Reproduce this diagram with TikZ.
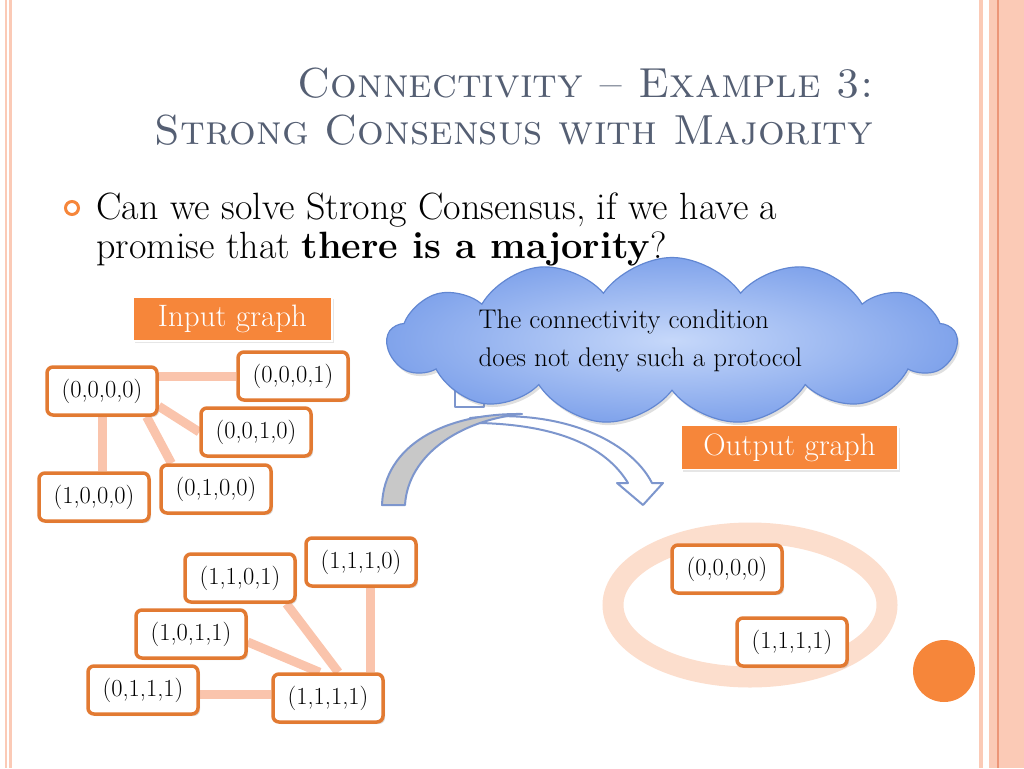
\documentclass[tikz,border=0pt]{standalone}
\usetikzlibrary{shapes.symbols,shadows,backgrounds}
\definecolor{titlegray}{RGB}{85,95,115}
\definecolor{boxorange}{RGB}{226,122,50}
\definecolor{labelorange}{RGB}{246,134,58}
\definecolor{edgepink}{RGB}{250,196,172}
\definecolor{stripepink}{RGB}{251,202,182}
\definecolor{stripeline}{RGB}{236,150,120}
\definecolor{ringpeach}{RGB}{252,222,205}
\definecolor{cloudline}{RGB}{98,135,210}
\definecolor{cloudin}{RGB}{198,216,250}
\definecolor{cloudout}{RGB}{128,163,235}
\definecolor{arrowline}{RGB}{125,150,205}
\definecolor{arrowgray}{RGB}{200,200,200}
\begin{document}
\begin{tikzpicture}[x=1pt,y=-1pt,
    vertex/.style={draw=boxorange, line width=3.5pt, rounded corners=6pt, fill=white,
      minimum width=110pt, minimum height=48pt, inner sep=2pt,
      font=\fontsize{24.5}{28}\selectfont,
      drop shadow={opacity=0.25, shadow xshift=2pt, shadow yshift=-2pt}},
    link/.style={draw=edgepink, line width=9pt},
    tag/.style={fill=labelorange, draw=white, line width=1.5pt, text=white,
      minimum height=44pt, font=\fontsize{31}{34}\selectfont,
      drop shadow={opacity=0.2, shadow xshift=2pt, shadow yshift=-2pt}},
    ribbon/.style={draw=arrowline, line width=2pt, line join=round}]
  \useasboundingbox (0,0) rectangle (1024,768);
  % side stripes
  \fill[stripepink] (5,0) rectangle (7,768);
  \fill[stripepink] (9,0) rectangle (12,768);
  \fill[stripepink] (979,0) rectangle (983,768);
  \fill[stripepink] (989,0) rectangle (1024,768);
  \draw[stripeline, line width=1.2pt] (998,0) -- (998,768);

  % title
  \node[anchor=base east, text=titlegray, font=\fontsize{42}{48}\selectfont\scshape] (title1) at (877,97) {Connectivity -- Example 3:};
  \node[anchor=base east, text=titlegray, font=\fontsize{42}{48}\selectfont\scshape] (title2) at (877,144) {Strong Consensus with Majority};

  % bullet text
  \draw[labelorange, line width=3pt] (72,208) circle (6.5);
  \node[anchor=base west, font=\fontsize{38}{42}\selectfont] (line1) at (93,219) {Can we solve Strong Consensus, if we have a};
  \node[anchor=base west, font=\fontsize{38}{42}\selectfont] (line2) at (93,258) {promise that \textbf{there is a majority}?};

  % input graph
  \node[vertex] (n0000) at (102,391) {(0,0,0,0)};
  \node[vertex] (n0001) at (293,376) {(0,0,0,1)};
  \node[vertex] (n0010) at (256,432) {(0,0,1,0)};
  \node[vertex] (n0100) at (216,489) {(0,1,0,0)};
  \node[vertex] (n1000) at (94,497) {(1,0,0,0)};

  \node[vertex] (n1101) at (240,578) {(1,1,0,1)};
  \node[vertex] (n1110) at (361,562) {(1,1,1,0)};
  \node[vertex] (n1011) at (191,634) {(1,0,1,1)};
  \node[vertex] (n0111) at (143,690) {(0,1,1,1)};
  \node[vertex] (n1111) at (328,698) {(1,1,1,1)};

  \begin{scope}[on background layer]
    \draw[link] (n0000.east |- n0001.west) -- (n0001.west);
    \draw[link] (n0000.-15) -- (n0010.west);
    \draw[link] (n0000.-30) -- (n0100.150);
    \draw[link] (n0000.south) -- (n0000.south |- n1000.north);
    \draw[link] ([xshift=9pt]n1110.south) -- ([xshift=9pt]n1110.south |- n1111.north);
    \draw[link] (n1101.-29) -- (n1111.68);
    \draw[link] (n1011.-8) -- (n1111.108);
    \draw[link] ([yshift=-4pt]n0111.east) -- ([yshift=-4pt]n0111.east -| n1111.west);
  \end{scope}

  % output graph
  \draw[ringpeach, line width=21pt] (750,605) ellipse (137 and 72);
  \node[vertex] (o0000) at (727,569) {(0,0,0,0)};
  \node[vertex] (o1111) at (792,642) {(1,1,1,1)};
  \fill[labelorange] (944,671) circle (31);

  % curved arrow
  \draw[ribbon, fill=white] (455,385) -- (455,407) -- (484,407) -- (484,385);
  \draw[ribbon, fill=white] (470,418) .. controls (560,408) and (630,440) .. (652,483)
    -- (663,483) -- (643,505) -- (617,483) -- (628,483)
    .. controls (605,445) and (555,425) .. (480,423) -- cycle;
  \draw[ribbon, fill=arrowgray] (382,505) .. controls (384,445) and (445,413) .. (522,414)
    .. controls (460,420) and (408,455) .. (405,505) -- cycle;

  % cloud
  \node[cloud, cloud puffs=13, cloud puff arc=110, aspect=3.4, draw=cloudline, line width=1.2pt,
    inner color=cloudin, outer color=cloudout, minimum width=569pt, minimum height=167pt,
    drop shadow={opacity=0.25, shadow xshift=2pt, shadow yshift=-3pt}] (msg) at (672,341) {};
  \node[anchor=west, align=left, font=\fontsize{27}{38}\selectfont] (msgtext) at (475,341)
    {The connectivity condition\\does not deny such a protocol};

  % labels
  \node[tag, minimum width=199pt] (inlabel) at (232.5,319) {Input graph};
  \node[tag, minimum width=217pt] (outlabel) at (789.5,447.5) {Output graph};
\end{tikzpicture}
\end{document}
